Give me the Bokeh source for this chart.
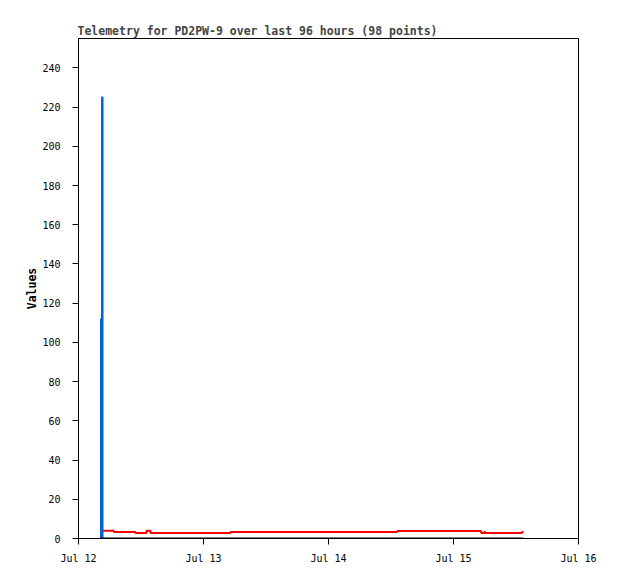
import pandas as pd
from bokeh.plotting import figure
from bokeh.models import FixedTicker, DatetimeTickFormatter, Range1d
from bokeh.embed import file_html
from bokeh.resources import INLINE

title_text = "Telemetry for PD2PW-9 over last 96 hours (98 points)"
y_label = "Values"
x_start = "2024-07-12 00:00"
x_end = "2024-07-16 00:00"
x_ticks = ["2024-07-12", "2024-07-13", "2024-07-14", "2024-07-15", "2024-07-16"]
y_ticks = [0, 20, 40, 60, 80, 100, 120, 140, 160, 180, 200, 220, 240]
y_max = 255

blue_times = ["2024-07-12 04:19", "2024-07-12 04:19", "2024-07-12 04:31", "2024-07-12 04:37"]
blue_values = [0, 112, 225, 0]

red_times = ["2024-07-12 04:40", "2024-07-12 06:47", "2024-07-12 10:56", "2024-07-12 13:03",
             "2024-07-12 13:50", "2024-07-13 05:11", "2024-07-14 13:11", "2024-07-15 05:19",
             "2024-07-15 05:57", "2024-07-15 06:06", "2024-07-15 13:09", "2024-07-15 13:26"]
red_values = [4.0, 3.3, 2.8, 3.9, 2.8, 3.3, 3.8, 2.8, 3.3, 2.8, 3.3, 3.3]

black_times = ["2024-07-12 04:13", "2024-07-15 13:26"]
black_values = [0, 0]

FONT = "DejaVu Sans Mono"

p = figure(width=602, height=566, x_axis_type="datetime", output_backend="svg",
           toolbar_location=None,
           x_range=Range1d(pd.Timestamp(x_start), pd.Timestamp(x_end)),
           y_range=Range1d(0, y_max),
           min_border_left=78, min_border_right=24, min_border_top=38, min_border_bottom=27)

p.title.text = title_text
p.title.text_font = FONT
p.title.text_font_size = "11.5px"
p.title.text_font_style = "bold"
p.title.align = "left"
p.title.standoff = 2
p.title.offset = -1

p.step([pd.Timestamp(t) for t in blue_times], blue_values, line_color="#0066cc", line_width=2, mode="after")
p.line([pd.Timestamp(t) for t in black_times], black_values, line_color="black", line_width=2)
p.step([pd.Timestamp(t) for t in red_times], red_values, line_color="#ff0000", line_width=2, mode="after")

p.xgrid.visible = False
p.ygrid.visible = False
p.outline_line_color = "black"
p.outline_line_alpha = 1
p.background_fill_color = "white"
p.border_fill_color = "white"

p.xaxis.ticker = FixedTicker(ticks=[pd.Timestamp(t).value / 1e6 for t in x_ticks])
p.xaxis.formatter = DatetimeTickFormatter(days="%b %d", months="%b %d", hours="%b %d")
p.yaxis.ticker = FixedTicker(ticks=y_ticks)
p.yaxis.axis_label = y_label

for ax in (p.xaxis[0], p.yaxis[0]):
    ax.axis_line_color = "black"
    ax.major_tick_line_color = "black"
    ax.major_tick_out = 6
    ax.major_tick_in = 0
    ax.minor_tick_line_color = None
    ax.major_label_text_font = FONT
    ax.major_label_text_font_size = "10px"
    ax.major_label_text_color = "black"
    ax.axis_label_text_font = FONT
    ax.axis_label_text_font_size = "11.5px"
    ax.axis_label_text_font_style = "bold"
    ax.axis_label_text_color = "black"

p.yaxis.major_label_standoff = 12
p.xaxis.major_label_standoff = 8
p.yaxis.axis_label_standoff = 0

open("out.html", "w").write(file_html(p, INLINE))
